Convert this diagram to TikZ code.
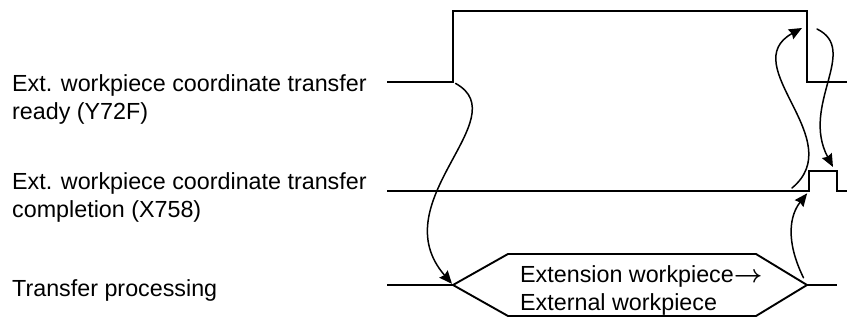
\documentclass[tikz,border=0pt]{standalone}
\usepackage{fontspec}
\setmainfont{Liberation Sans}
\usetikzlibrary{arrows.meta}

\begin{document}
\begin{tikzpicture}[x=1pt,y=-1pt,>={Stealth[length=13pt,width=11pt,inset=1.5pt]},line cap=round,line join=round,
  wave/.style={line width=1.9pt,line cap=butt,line join=miter},
  link/.style={->,line width=1.5pt},
  lbl/.style={anchor=base west,align=left,inner sep=0pt,font=\fontsize{23.3}{27.7}\selectfont}]
\useasboundingbox (0,0) rectangle (847,320);
% ready signal (Y72F)
\coordinate (r0) at (387,82);
\coordinate (r1) at (453,82);
\coordinate (r2) at (453,11);
\coordinate (r3) at (807,11);
\coordinate (r4) at (807,82);
\coordinate (r5) at (847,82);
% completion signal (X758)
\coordinate (c0) at (387,191);
\coordinate (c1) at (809,191);
\coordinate (c2) at (809,171);
\coordinate (c3) at (837,171);
\coordinate (c4) at (837,191);
\coordinate (c5) at (847,191);
% transfer processing
\coordinate (p0) at (387,285);
\coordinate (pl) at (453,285);
\coordinate (ptl) at (508,254);
\coordinate (ptr) at (756,254);
\coordinate (pr) at (807,285);
\coordinate (pbr) at (756,316);
\coordinate (pbl) at (508,316);
\coordinate (p1) at (837,285);
% loose ends of the handshake arrows
\coordinate (h3s) at (792,188);
\coordinate (h3e) at (802,28);
\coordinate (h4s) at (817,29);
\coordinate (h4e) at (833,167);
\draw[wave] (r0) -- (r1) -- (r2) -- (r3) -- (r4) -- (r5);
\draw[wave] (c0) -- (c1) -- (c2) -- (c3) -- (c4) -- (c5);
\draw[wave] (p0) -- (pl);
\draw[wave] (pl) -- (ptl) -- (ptr) -- (pr) -- (pbr) -- (pbl) -- cycle;
\draw[wave] (pr) -- (p1);
\draw[link,shorten <=3pt,shorten >=1.5pt] (r1) .. controls +(65,36) and +(-72,-83) .. (pl);
\draw[link,shorten <=8pt,shorten >=3pt] (pr) .. controls +(-22,-45) and +(-19,24) .. (c1);
\draw[link] (h3s) .. controls +(58,-48) and +(-67,37) .. (h3e);
\draw[link] (h4s) .. controls +(43,21) and +(-33,-62) .. (h4e);
\node[lbl] (rdytxt) at (12,119.7) {Ext. workpiece coordinate transfer\\ready (Y72F)};
\node[lbl] (cmptxt) at (12,217.7) {Ext. workpiece coordinate transfer\\completion (X758)};
\node[lbl] (prctxt) at (12,297) {Transfer processing};
\node[lbl] (modtxt) at (520,310.7) {Extension workpiece{\boldmath$\rightarrow$}\\External workpiece};
\end{tikzpicture}
\end{document}
